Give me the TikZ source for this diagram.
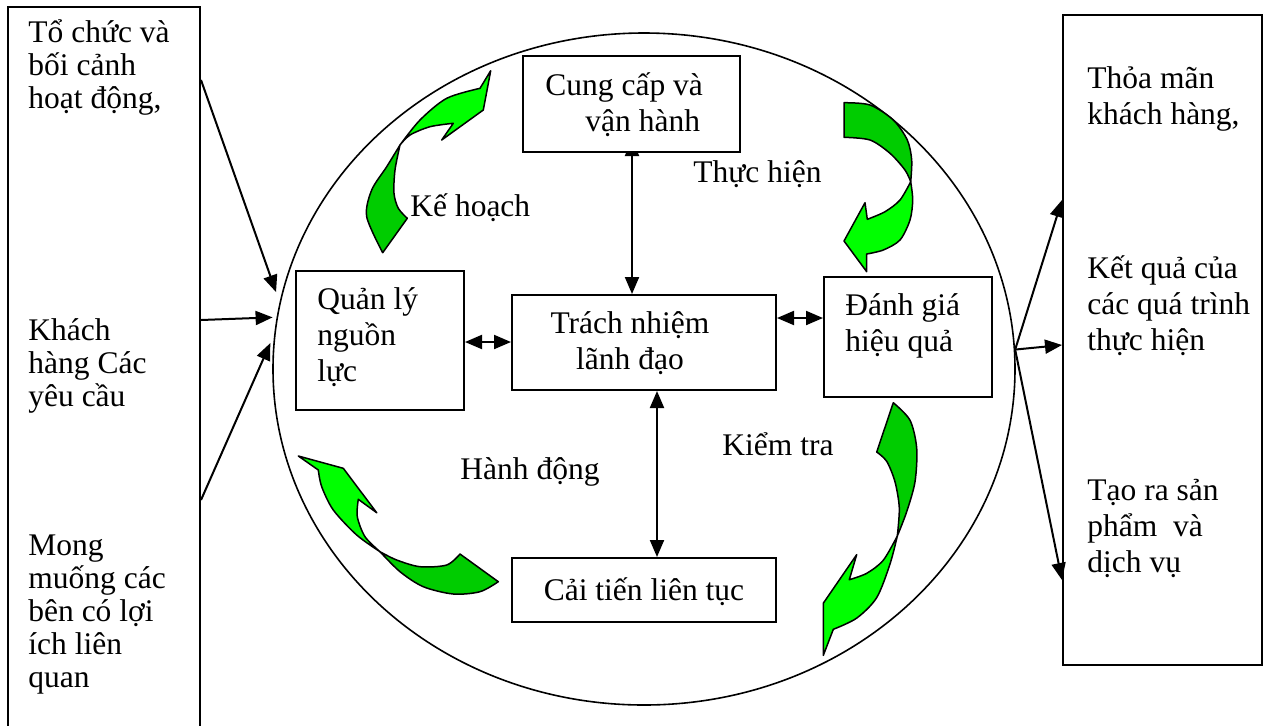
\documentclass[tikz,border=0pt]{standalone}
\usepackage{fontspec}
\setmainfont{Liberation Serif}
\usetikzlibrary{shapes.geometric,fit,arrows.meta,backgrounds,calc}
\newcommand{\mlines}[1]{\begin{tabular}[t]{@{}l@{}}#1\end{tabular}}
\newcommand{\clines}[1]{\begin{tabular}[t]{@{}c@{}}#1\end{tabular}}
\definecolor{gdark}{RGB}{0,204,0}
\definecolor{glight}{RGB}{0,255,0}
\begin{document}
\begin{tikzpicture}[x=0.5pt,y=-0.5pt,
  boxst/.style={draw, line width=1pt, fill=white, inner sep=0pt},
  txt/.style={anchor=base west, inner sep=0pt, font=\fontsize{15.75}{18}\selectfont},
  ltxt/.style={anchor=base west, inner sep=0pt, font=\fontsize{15.75}{16.5}\selectfont},
  ctxt/.style={anchor=base, inner sep=0pt, font=\fontsize{15.75}{18}\selectfont},
  conn/.style={line width=1pt, -{Triangle[length=8.5pt,width=7pt]}},
  dconn/.style={line width=1pt, {Triangle[length=8.5pt,width=7pt]}-{Triangle[length=8.5pt,width=7pt]}},
  gout/.style={draw=black, line width=0.75pt, line join=round}]
\useasboundingbox (0,0) rectangle (1270,725);
\clip (0,0) rectangle (1270,725);

% outer boxes and ellipse
\node[boxst, fit={(8,7) (200,745)}] (inbox) {};
\node[boxst, fit={(1063,15) (1262,665)}] (outbox) {};
\node[draw, ellipse, line width=0.8pt, minimum width=371pt, minimum height=336pt, inner sep=0pt] (circ) at (644,369) {};

% inner boxes
\node[boxst, fit={(523,56) (740,152)}] (cc) {};
\node[boxst, fit={(296,271) (464,410)}] (ql) {};
\node[boxst, fit={(512,295) (776,390)}] (tn) {};
\node[boxst, fit={(824,277) (992,397)}] (dg) {};
\node[boxst, fit={(512,558) (776,622)}] (ct) {};

% texts
\node[ltxt] (tA) at (28,42) {\mlines{Tổ chức và\\bối cảnh\\hoạt động,}};
\node[ltxt] (tB) at (28,340) {\mlines{Khách\\hàng Các\\yêu cầu}};
\node[ltxt] (tC) at (28,555) {\mlines{Mong\\muống các\\bên có lợi\\ích liên\\quan}};
\node[txt] (tD) at (1087,88) {\mlines{Thỏa mãn\\khách hàng,}};
\node[txt] (tE) at (1087,278) {\mlines{Kết quả của\\các quá trình\\thực hiện}};
\node[txt] (tF) at (1087,500) {\mlines{Tạo ra sản\\phẩm\ \ và\\dịch vụ}};
\node[txt] (tcc) at (545,95) {\mlines{Cung cấp và\\\hspace{20pt}vận hành}};
\node[txt] (tql) at (317,309) {\mlines{Quản lý\\nguồn\\lực}};
\node[ctxt] (ttn) at (630,333) {\clines{Trách nhiệm\\lãnh đạo}};
\node[txt] (tdg) at (845,315) {\mlines{Đánh giá\\hiệu quả}};
\node[ctxt] (tct) at (644,600) {Cải tiến liên tục};
\node[txt] (lkh) at (410,216) {Kế hoạch};
\node[txt] (lth) at (693,182) {Thực hiện};
\node[txt] (lhd) at (460,479) {Hành động};
\node[txt] (lkt) at (722,455) {Kiểm tra};

% connectors
\draw[conn] (inbox.east |- 0,80) -- ($(circ.168)+(-6,0)$);
\draw[conn] (inbox.east |- 0,320) -- ($(circ.172.5)+(-4,0)$);
\draw[conn] (inbox.east |- 0,500) -- ($(circ.176.3)+(-3,0)$);
\draw[conn] (circ.3.7) -- (outbox.west |- 0,200);
\draw[conn] (circ.3.7) -- (outbox.west |- 0,345);
\draw[conn] (circ.3.7) -- (outbox.west |- 0,580);
\draw[dconn] (ql.east |- 0,342) -- (tn.west |- 0,342);
\draw[dconn] (tn.east |- 0,318) -- (dg.west |- 0,318);
\begin{scope}[on background layer]
\draw[dconn] ($(cc.south -| 632,0)+(0,-14)$) -- (tn.north -| 632,0);
\end{scope}
\draw[dconn] (tn.south -| 657,0) -- (ct.north -| 657,0);

% green curved arrows
% Ke hoach
\filldraw[gout, fill=gdark] (382.7,252.7) -- (407.3,218.3) -- plot[smooth] coordinates {(407.3,218.3) (398.3,208.3) (394,193.3) (395,170) (400,145)} -- plot[smooth] coordinates {(400,145) (386.7,166.7) (371.7,190) (366.7,216.7) (382.7,252.7)} -- cycle;
\filldraw[gout, fill=glight] plot[smooth] coordinates {(400,145) (420,120) (446.7,98.3) (480,88.3)} -- (490.7,70.7) -- (483.3,110) -- (441.7,140) -- (453.3,123.3) -- plot[smooth] coordinates {(453.3,123.3) (430,126.7) (410,135) (400,145)} -- cycle;
% Thuc hien
\filldraw[gout, fill=gdark] (844,102.7) -- plot[smooth] coordinates {(844,102.7) (870,105) (893.3,120) (907.3,140) (911.7,160) (910.7,181.7)} -- plot[smooth] coordinates {(910.7,181.7) (905,170) (890,153.3) (870,140) (844,137.3)} -- cycle;
\filldraw[gout, fill=glight] plot[smooth] coordinates {(910.7,181.7) (912.7,200) (910,220) (900,240) (883.3,250) (866.7,254)} -- (866.7,271.7) -- (844,241) -- (865,202.7) -- (867.3,219.3) -- plot[smooth] coordinates {(867.3,219.3) (885,211.7) (900,200) (910.7,181.7)} -- cycle;
% Hanh dong
\filldraw[gout, fill=gdark] (460,554) -- (498.3,581.7) -- plot[smooth] coordinates {(498.3,581.7) (480,591.7) (453.3,594) (423.3,586.7) (400,571.7) (380,551.7)} -- plot[smooth] coordinates {(380,551.7) (396.7,560) (420,566.7) (446.7,565) (460,554)} -- cycle;
\filldraw[gout, fill=glight] plot[smooth] coordinates {(380,551.7) (356.7,535) (333.3,510) (321.7,486.7) (318.3,470)} -- (298.3,456) -- (343.3,468.3) -- (376.7,512.7) -- (358.3,499.3) -- plot[smooth] coordinates {(358.3,499.3) (357.3,516.7) (365,536.7) (380,551.7)} -- cycle;
% Kiem tra
\filldraw[gout, fill=gdark] (876.7,452) -- (893.3,402.7) -- plot[smooth] coordinates {(893.3,402.7) (910,420.2) (916.7,448.2) (915,481.8) (906.7,511.7) (897.3,536)} -- plot[smooth] coordinates {(897.3,536) (899.3,508) (895,481.8) (886.7,461.3) (876.7,452)} -- cycle;
\filldraw[gout, fill=glight] plot[smooth] coordinates {(897.3,536) (890,564) (876.7,597.6) (856.7,618.1) (833.3,629.3)} -- (823.3,655.4) -- (823.3,603.2) -- (856.7,554.6) -- (849.3,579.7) -- plot[smooth] coordinates {(849.3,579.7) (866.7,573.3) (883.3,560.2) (897.3,536)} -- cycle;
\end{tikzpicture}
\end{document}
